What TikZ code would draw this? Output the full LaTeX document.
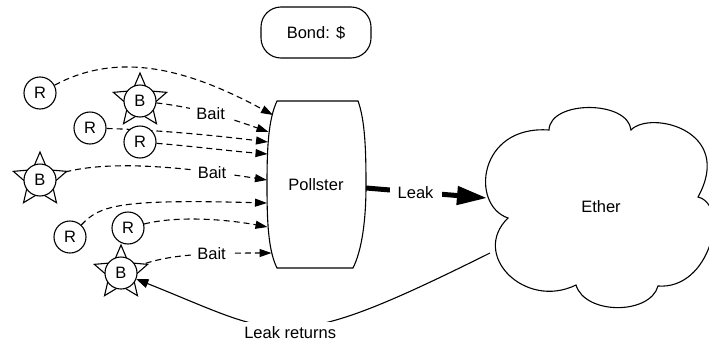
\documentclass[tikz,border=0pt]{standalone}
\usepackage{fontspec}
\setmainfont{Liberation Sans}
\usetikzlibrary{arrows.meta,shapes.geometric}
\pgfdeclarelayer{bg}
\pgfsetlayers{bg,main}
\tikzset{
  rnode/.style={circle, draw, fill=white, minimum size=32pt, inner sep=0pt},
  bstar/.style={star, star points=5, star point ratio=2.2, draw, fill=white, minimum size=56pt, inner sep=0pt},
  conn/.style={line width=1.1pt, dash pattern=on 6pt off 4pt, -{Triangle[length=12pt,width=8pt]}},
  lbl/.style={fill=white, inner sep=6pt},
  leakarrow/.style={line width=5pt, -{Triangle[length=30pt,width=18pt]}},
  retarrow/.style={line width=1.1pt, -{Triangle[length=12pt,width=9pt]}}
}
\newcommand\baitnode[2]{\node[bstar] at (#2) {};\node[rnode] (#1) at (#2) {B};}
\begin{document}
\begin{tikzpicture}[x=1pt,y=-1pt,font=\fontsize{16.5}{20}\selectfont,line width=1.1pt]
\useasboundingbox (0,0) rectangle (709,343);
\clip (0,0) rectangle (709,343);

% Bond box
\node[draw, rounded corners=20pt, minimum width=110pt, minimum height=51pt] (bond) at (316,32.5) {Bond: \$};

% Pollster
\draw (277,101) -- (358,101)
  .. controls (365,120) and (366,150) .. (366,185)
  .. controls (366,220) and (362,250) .. (353,268)
  -- (277,268)
  .. controls (268,250) and (267,220) .. (267,185)
  .. controls (267,150) and (268,120) .. (277,101) -- cycle;
\node (poll) at (316,185) {Pollster};

% Ether cloud
\draw (508,218) .. controls (470,205) and (478,125) .. (549,130)
  .. controls (550,100) and (628,100) .. (631,130)
  .. controls (650,110) and (735,130) .. (698,197)
  .. controls (730,205) and (710,290) .. (658,286)
  .. controls (650,315) and (585,315) .. (576,285)
  .. controls (525,310) and (470,255) .. cycle;
\node (ether) at (601,207) {Ether};

% endpoints on borders
\coordinate (a1) at (273,115);
\coordinate (a2) at (268.5,132);
\coordinate (a3) at (268,142);
\coordinate (a4) at (267.5,154);
\coordinate (a5) at (267,180);
\coordinate (a6) at (267,203);
\coordinate (a7) at (267.5,227);
\coordinate (a8) at (271.5,253);
\coordinate (pr) at (366,188);
\coordinate (el) at (487,198);
\coordinate (er) at (490,253);

% R and B nodes
\node[rnode] (R1) at (40,93) {R};
\baitnode{B1}{140,101}
\node[rnode] (R2) at (90,128) {R};
\node[rnode] (R3) at (140,142) {R};
\baitnode{B2}{40,180}
\node[rnode] (R4) at (70,237) {R};
\node[rnode] (R5) at (128,228) {R};
\baitnode{B3}{121,273}

\begin{pgfonlayer}{bg}
\begin{scope}[line width=1.1pt]
\draw[conn] (R1) .. controls (120,50) and (190,70) .. (a1);
\draw[conn] (B1) .. controls (200,108) and (235,120) .. node[lbl, pos=.45] {Bait} (a2);
\draw[conn] (R2) .. controls (160,130) and (220,136) .. (a3);
\draw[conn] (R3) .. controls (190,146) and (230,151) .. (a4);
\draw[conn] (B2) .. controls (100,160) and (170,165) .. node[lbl, pos=.8] {Bait} (a5);
\draw[conn] (R4) .. controls (100,205) and (120,199) .. (a6);
\draw[conn] (R5) .. controls (180,215) and (230,220) .. (a7);
\draw[conn] (B3) .. controls (165,255) and (200,253) .. node[lbl, pos=.67] {Bait} (a8);
\draw[leakarrow] (pr) -- node[lbl, inner sep=8pt, pos=.41] {Leak} (el);
\draw[retarrow] (er) .. controls (281,357) and (284,338) .. node[fill=white, inner sep=4pt, pos=.5, yshift=-5pt] {Leak returns} (B3);
\end{scope}
\end{pgfonlayer}
\end{tikzpicture}
\end{document}
